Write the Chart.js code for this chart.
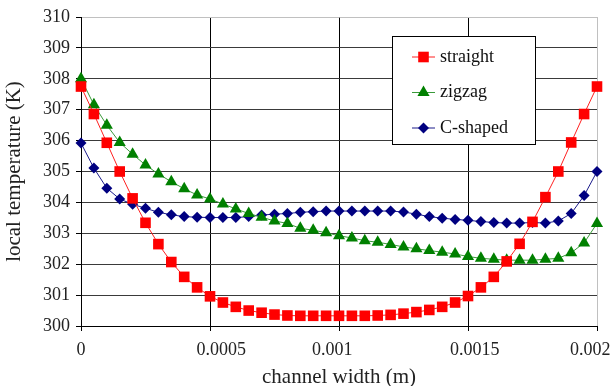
<!DOCTYPE html>
<html>
<head>
<meta charset="utf-8">
<script src="https://cdn.jsdelivr.net/npm/chart.js@4.4.1/dist/chart.umd.min.js"></script>
<style>
  html, body { margin: 0; padding: 0; background: #fff; }
  canvas { display: block; }
</style>
</head>
<body>
<canvas id="chart-temp" width="611" height="386"></canvas>
<script>
// channel width (m), one point every 0.00005 m
const channelWidth = [
  0, 0.00005, 0.0001, 0.00015, 0.0002, 0.00025, 0.0003, 0.00035, 0.0004, 0.00045,
  0.0005, 0.00055, 0.0006, 0.00065, 0.0007, 0.00075, 0.0008, 0.00085, 0.0009, 0.00095,
  0.001, 0.00105, 0.0011, 0.00115, 0.0012, 0.00125, 0.0013, 0.00135, 0.0014, 0.00145,
  0.0015, 0.00155, 0.0016, 0.00165, 0.0017, 0.00175, 0.0018, 0.00185, 0.0019, 0.00195,
  0.002
];

// local temperature (K)
const straight = [
  307.75, 306.86, 305.93, 305.00, 304.13, 303.34, 302.65, 302.07, 301.59, 301.25,
  300.96, 300.76, 300.62, 300.50, 300.43, 300.37, 300.34, 300.33, 300.33, 300.33,
  300.33, 300.33, 300.33, 300.34, 300.36, 300.40, 300.45, 300.52, 300.62, 300.76,
  300.97, 301.25, 301.59, 302.09, 302.66, 303.37, 304.17, 305.00, 305.94, 306.86,
  307.75
];
const zigzag = [
  308.00, 307.16, 306.50, 305.94, 305.56, 305.21, 304.92, 304.67, 304.44, 304.24,
  304.11, 303.95, 303.79, 303.64, 303.52, 303.40, 303.32, 303.16, 303.10, 303.02,
  302.92, 302.85, 302.76, 302.71, 302.64, 302.56, 302.50, 302.44, 302.39, 302.33,
  302.25, 302.19, 302.16, 302.13, 302.13, 302.13, 302.16, 302.19, 302.37, 302.69,
  303.32
];
const cShaped = [
  305.92, 305.11, 304.46, 304.11, 303.94, 303.81, 303.68, 303.60, 303.54, 303.52,
  303.51, 303.51, 303.51, 303.54, 303.59, 303.62, 303.64, 303.68, 303.70, 303.72,
  303.72, 303.72, 303.72, 303.72, 303.72, 303.69, 303.62, 303.54, 303.49, 303.45,
  303.42, 303.38, 303.35, 303.33, 303.33, 303.35, 303.33, 303.40, 303.64, 304.22,
  305.00
];

const xTickLabels = ['0', '0.0005', '0.001', '0.0015', '0.002'];

const serif = '"Liberation Serif", "Times New Roman", serif';

const toPoints = (ys) => channelWidth.map((x, i) => ({ x: x, y: ys[i] }));

// the original x labels sit a little off their gridlines; nudge with spaces
// (positive = spaces before, negative = spaces after)
const xLabelNudge = [0, 5, -3, 3, -3];
const nudgeLabel = (text, n) =>
  n > 0 ? ' '.repeat(n) + text : text + ' '.repeat(-n);

// marker shapes for the legend box
function drawMarker(ctx, style, x, y, r, color) {
  ctx.save();
  ctx.fillStyle = color;
  ctx.beginPath();
  if (style === 'rect') {
    const s = Math.SQRT1_2 * r;
    ctx.rect(x - s, y - s, 2 * s, 2 * s);
  } else if (style === 'triangle') {
    const h = r * Math.sqrt(3) / 2;
    ctx.moveTo(x, y - r);
    ctx.lineTo(x + h, y + r / 2);
    ctx.lineTo(x - h, y + r / 2);
    ctx.closePath();
  } else {
    ctx.moveTo(x - r, y);
    ctx.lineTo(x, y - r);
    ctx.lineTo(x + r, y);
    ctx.lineTo(x, y + r);
    ctx.closePath();
  }
  ctx.fill();
  ctx.restore();
}

const boxLegend = {
  id: 'boxLegend',
  afterDatasetsDraw(chart) {
    const ctx = chart.ctx;
    const x0 = 392.5, y0 = 36.5, w = 143, h = 108;
    ctx.save();
    ctx.fillStyle = '#fff';
    ctx.fillRect(x0, y0, w, h);
    ctx.strokeStyle = '#000';
    ctx.lineWidth = 1;
    ctx.strokeRect(x0, y0, w, h);
    ctx.font = '18px ' + serif;
    ctx.textBaseline = 'middle';
    const rows = [57, 92.5, 128];
    chart.data.datasets.forEach((ds, i) => {
      const y = rows[i];
      ctx.strokeStyle = ds.borderColor;
      ctx.beginPath();
      ctx.moveTo(412, y);
      ctx.lineTo(435, y);
      ctx.stroke();
      drawMarker(ctx, ds.pointStyle, 423.5, y, ds.pointRadius, ds.pointBackgroundColor);
      ctx.fillStyle = '#111';
      ctx.fillText(ds.label, 440, y);
    });
    ctx.restore();
  }
};

const ctx = document.getElementById('chart-temp').getContext('2d');

const tempChart = new Chart(ctx, {
  type: 'line',
  data: {
    datasets: [
      {
        label: 'straight',
        data: toPoints(straight),
        borderColor: '#ff2020',
        borderWidth: 1,
        pointStyle: 'rect',
        pointRadius: 7.5,
        pointBackgroundColor: '#ff0000',
        pointBorderColor: '#ff0000',
        pointBorderWidth: 0,
        clip: false
      },
      {
        label: 'zigzag',
        data: toPoints(zigzag),
        borderColor: '#3a9a3a',
        borderWidth: 1,
        pointStyle: 'triangle',
        pointRadius: 7,
        pointBackgroundColor: '#008000',
        pointBorderColor: '#008000',
        pointBorderWidth: 0,
        clip: false
      },
      {
        label: 'C-shaped',
        data: toPoints(cShaped),
        borderColor: '#1a1a8a',
        borderWidth: 1,
        pointStyle: 'rectRot',
        pointRadius: 5.5,
        pointBackgroundColor: '#000080',
        pointBorderColor: '#000080',
        pointBorderWidth: 0,
        clip: false
      }
    ]
  },
  options: {
    responsive: false,
    animation: false,
    devicePixelRatio: 1,
    layout: { padding: { left: 0, right: 14, top: 17, bottom: 0 } },
    plugins: {
      legend: { display: false },
      tooltip: { enabled: false }
    },
    scales: {
      x: {
        type: 'linear',
        min: 0,
        max: 0.002,
        afterFit: (scale) => {
          scale.height = 60;
          scale.paddingLeft = 0;
          scale.paddingRight = 0;
        },
        ticks: {
          stepSize: 0.0005,
          maxRotation: 0,
          autoSkip: false,
          padding: 8,
          color: '#222',
          font: { family: serif, size: 18 },
          callback: (value, index) => nudgeLabel(xTickLabels[index], xLabelNudge[index])
        },
        grid: {
          color: (c) => (c.tick && c.tick.value > 0.00199 ? '#c0c0c0' : '#000'),
          tickColor: '#000',
          tickLength: 5,
          lineWidth: 1
        },
        border: { color: '#000', width: 1 },
        title: {
          display: true,
          text: 'channel width (m)',
          color: '#222',
          font: { family: serif, size: 21, lineHeight: 0.8 },
          padding: { top: 0, bottom: 0 }
        }
      },
      y: {
        min: 300,
        max: 310,
        afterFit: (scale) => {
          scale.width = 81;
          scale.paddingTop = 0;
          scale.paddingBottom = 0;
        },
        ticks: {
          stepSize: 1,
          padding: 6,
          color: '#222',
          font: { family: serif, size: 18 }
        },
        grid: {
          color: (c) => (c.tick && c.tick.value >= 310 ? '#c0c0c0' : '#3a3a3a'),
          tickColor: '#000',
          tickLength: 5,
          lineWidth: 1
        },
        border: { color: '#000', width: 1 },
        title: {
          display: true,
          text: 'local temperature (K)',
          color: '#222',
          font: { family: serif, size: 21, lineHeight: 1 },
          padding: { top: 3.5, bottom: 0 }
        }
      }
    }
  },
  plugins: [boxLegend]
});
</script>
</body>
</html>
